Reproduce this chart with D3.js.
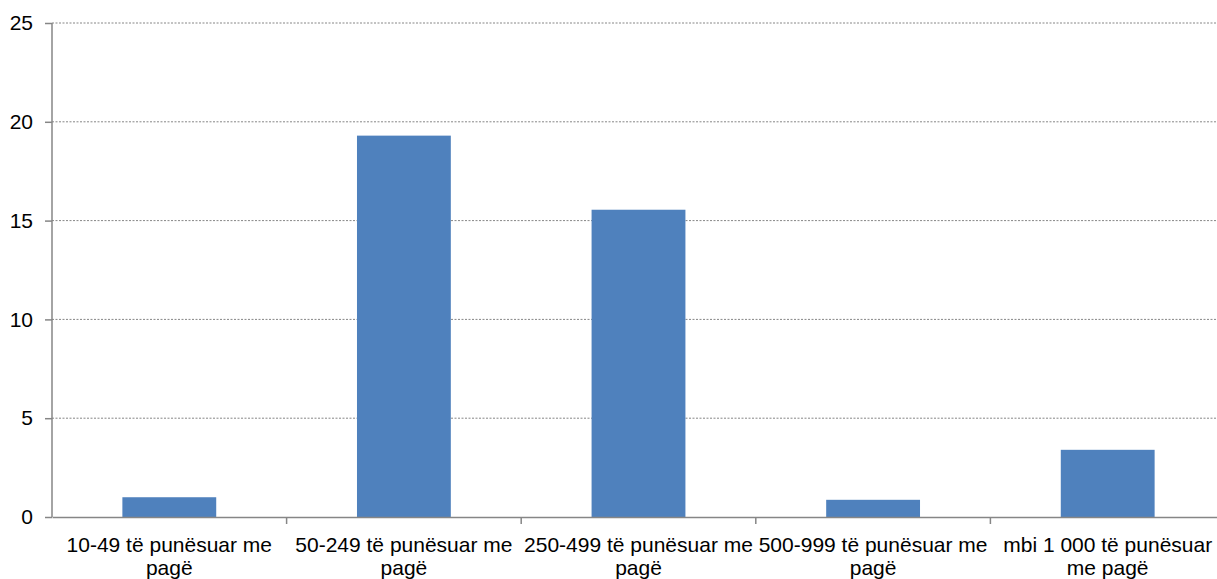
<!DOCTYPE html>
<html>
<head>
<meta charset="utf-8">
<script src="https://cdn.jsdelivr.net/npm/d3@7"></script>
<style>
  body { margin: 0; background: #fff; }
  svg text { font-family: "Liberation Sans", Arial, sans-serif; fill: #000; }
</style>
</head>
<body>
<svg id="chart" width="1217" height="579"></svg>
<script>
// data
const categories = [
  "10-49 të punësuar me\npagë",
  "50-249 të punësuar me\npagë",
  "250-499 të punësuar me\npagë",
  "500-999 të punësuar me\npagë",
  "mbi 1 000 të punësuar\nme pagë"
];
const values = [1.0, 19.3, 15.55, 0.87, 3.4];
const yTicks = [0, 5, 10, 15, 20, 25];

const svg = d3.select("#chart");
const m = { left: 52, top: 23, bottom: 62 };
const plotW = 1173, plotH = 579 - m.top - m.bottom;

const x = d3.scaleBand().domain(categories).range([m.left, m.left + plotW]).paddingInner(0.6).paddingOuter(0.3);
const xb = d3.scaleBand().domain(categories).range([m.left, m.left + plotW]);
const y = d3.scaleLinear().domain([0, 25]).range([m.top + plotH, m.top]);

// gridlines
svg.append("g")
  .selectAll("line")
  .data(yTicks.filter(d => d > 0))
  .enter().append("line")
  .attr("x1", m.left).attr("x2", m.left + plotW)
  .attr("y1", d => y(d)).attr("y2", d => y(d))
  .attr("stroke", "#868686")
  .attr("stroke-width", 1)
  .attr("stroke-dasharray", "2,1.5");

// bars
svg.append("g")
  .selectAll("rect")
  .data(values)
  .enter().append("rect")
  .attr("x", (d, i) => x(categories[i]))
  .attr("width", x.bandwidth())
  .attr("y", d => y(d))
  .attr("height", d => y(0) - y(d))
  .attr("fill", "#4F81BD");

// y axis
const yAxis = svg.append("g")
  .attr("transform", `translate(${m.left},0)`)
  .call(d3.axisLeft(y).tickValues(yTicks).tickSize(7).tickPadding(12));
yAxis.select(".domain").attr("stroke", "#868686").attr("stroke-width", 1.5).attr("d", `M0,${y(25)}V${y(0)}`);
yAxis.selectAll(".tick line").attr("stroke", "#868686").attr("stroke-width", 1.5);
yAxis.selectAll("text").style("font-size", "21px").attr("fill", "#000");

// x axis
const xAxis = svg.append("g")
  .attr("transform", `translate(0,${y(0)})`)
  .call(d3.axisBottom(xb).tickSize(0).tickFormat(""));
xAxis.select(".domain").attr("stroke", "#868686").attr("stroke-width", 1.5);
xAxis.selectAll(".tick").remove();

// category separators
svg.append("g")
  .selectAll("line")
  .data(categories.slice(1))
  .enter().append("line")
  .attr("x1", d => xb(d)).attr("x2", d => xb(d))
  .attr("y1", y(0)).attr("y2", y(0) + 7)
  .attr("stroke", "#868686").attr("stroke-width", 1.5);

// category labels
const lbl = svg.append("g")
  .selectAll("text")
  .data(categories)
  .enter().append("text")
  .attr("text-anchor", "middle")
  .style("font-size", "21px")
  .attr("x", d => xb(d) + xb.bandwidth() / 2)
  .attr("y", y(0) + 35);
lbl.selectAll("tspan")
  .data(d => d.split("\n").map(t => ({ t, c: xb(d) + xb.bandwidth() / 2 })))
  .enter().append("tspan")
  .attr("x", d => d.c)
  .attr("dy", (d, i) => i === 0 ? 0 : 23)
  .text(d => d.t);
</script>
</body>
</html>
